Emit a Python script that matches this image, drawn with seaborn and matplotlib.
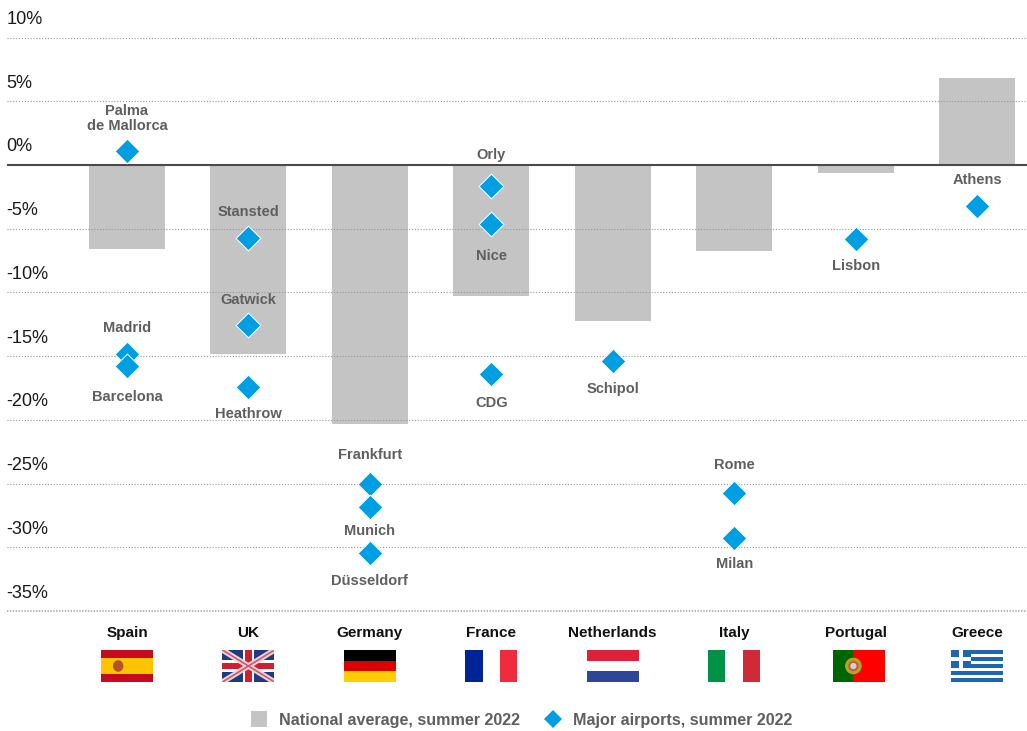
import numpy as np
import pandas as pd
import matplotlib
matplotlib.use("Agg")
import matplotlib.pyplot as plt
import matplotlib.transforms as mtrans
from matplotlib.lines import Line2D
from matplotlib.patches import Rectangle, Circle, Ellipse
import seaborn as sns

countries = ["Spain", "UK", "Germany", "France", "Netherlands", "Italy", "Portugal", "Greece"]
national_avg = [-6.6, -14.8, -20.3, -10.3, -12.25, -6.75, -0.63, 6.83]

airport_names = ["Palma\nde Mallorca", "Madrid", "Barcelona", "Stansted", "Gatwick", "Heathrow",
                 "Frankfurt", "Munich", "Düsseldorf", "Orly", "Nice", "CDG", "Schipol",
                 "Rome", "Milan", "Lisbon", "Athens"]
airport_country = ["Spain", "Spain", "Spain", "UK", "UK", "UK",
                   "Germany", "Germany", "Germany", "France", "France", "France", "Netherlands",
                   "Italy", "Italy", "Portugal", "Greece"]
airport_values = [1.1, -14.8, -15.8, -5.73, -12.57, -17.44,
                  -25.06, -26.87, -30.48, -1.65, -4.63, -16.42, -15.4,
                  -25.77, -29.3, -5.81, -3.22]
label_offset_px = [32, 26, -31, 26, 25, -27, 29, -24, -28, 31, -32, -29, -28, 28, -26, -27, 26]

y_ticks = [10, 5, 0, -5, -10, -15, -20, -25, -30, -35]

W, H = 1027, 731
sns.set_theme(style="white")
plt.rcParams["font.family"] = ["Liberation Sans", "DejaVu Sans"]

fig = plt.figure(figsize=(W / 100, H / 100), dpi=100)
ax = fig.add_axes([7 / W, 1 - 611 / H, 1 - 7 / W, (611 - 37.5) / H])

sns.barplot(x=countries, y=national_avg, order=countries, color="#c4c4c4", saturation=1,
            width=0.626, linewidth=0, ax=ax, zorder=1)
for t in y_ticks:
    if t == -35:
        ax.axhline(t, color="#b0b0b0", lw=1.3, ls=(0, (0.8, 0.8)), zorder=2, clip_on=False)
    elif t != 0:
        ax.axhline(t, color="#979797", lw=0.8, ls=(0, (1, 1.6)), zorder=2, clip_on=False)
ax.axhline(0, color="#4a4a4a", lw=1.5, zorder=3)
sns.stripplot(x=airport_country, y=airport_values, order=countries, jitter=False, marker="D",
              size=12.6, color="#009fe3", linewidth=0.7, edgecolor="white", ax=ax, zorder=4)

name_color = "#5f5f5f"
for name, c, v, off in zip(airport_names, airport_country, airport_values, label_offset_px):
    ax.annotate(name, (countries.index(c), v), xytext=(0, off * 0.72), textcoords="offset points",
                ha="center", va="center", fontsize=10.5, fontweight="bold", color=name_color,
                linespacing=1.1, zorder=5)

ax.set_xlim((7 - 127) / 121.43, (1027 - 127) / 121.43)
ax.set_ylim(-35, 10)
ax.set_xlabel("")
ax.set_ylabel("")
sns.despine(ax=ax, left=True, bottom=True)

ax.set_yticks(y_ticks)
ax.set_yticklabels([f"{t}%" for t in y_ticks])
ax.tick_params(axis="y", length=0, pad=0, labelsize=13.1, labelcolor="#1a1a1a")
shift = mtrans.ScaledTranslation(-0.5 / 100, 20 / 100, fig.dpi_scale_trans)
for lab in ax.get_yticklabels():
    lab.set_ha("left")
    lab.set_transform(lab.get_transform() + shift)

ax.set_xticks(range(len(countries)))
ax.set_xticklabels(countries, fontsize=11, fontweight="bold", color="#111111")
ax.tick_params(axis="x", length=0, pad=11)


def flag_axes(i, dx=0):
    cx = ax.transData.transform((i, 0))[0] + dx
    a = fig.add_axes([(cx - 26) / W, 1 - 682 / H, 52 / W, 32 / H])
    a.set_xlim(0, 1)
    a.set_ylim(0, 1)
    a.axis("off")
    return a


def stripes_h(a, colors, heights=None):
    heights = heights or [1 / len(colors)] * len(colors)
    top = 1
    for c, h in zip(colors, heights):
        a.add_patch(Rectangle((0, top - h), 1, h, color=c, lw=0))
        top -= h


def stripes_v(a, colors):
    for k, c in enumerate(colors):
        a.add_patch(Rectangle((k / len(colors), 0), 1 / len(colors), 1, color=c, lw=0))


# Spain
a = flag_axes(0)
stripes_h(a, ["#c60b1e", "#ffc400", "#c60b1e"], [0.25, 0.5, 0.25])
a.add_patch(Ellipse((0.33, 0.5), 0.2, 0.36, color="#b5502a", lw=0))
# UK
a = flag_axes(1)
a.add_patch(Rectangle((0, 0), 1, 1, color="#1f3a80", lw=0))
a.plot([0, 1], [0, 1], color="#e8d5d8", lw=4, solid_capstyle="butt")
a.plot([0, 1], [1, 0], color="#e8d5d8", lw=4, solid_capstyle="butt")
a.plot([0, 1], [0, 1], color="#d8566a", lw=1.2, solid_capstyle="butt")
a.plot([0, 1], [1, 0], color="#d8566a", lw=1.2, solid_capstyle="butt")
a.add_patch(Rectangle((0.39, 0), 0.22, 1, color="white", lw=0))
a.add_patch(Rectangle((0, 0.32), 1, 0.36, color="white", lw=0))
a.add_patch(Rectangle((0.44, 0), 0.12, 1, color="#cf2033", lw=0))
a.add_patch(Rectangle((0, 0.4), 1, 0.2, color="#cf2033", lw=0))
# Germany
stripes_h(flag_axes(2), ["#000000", "#dd0000", "#ffce00"])
# France
stripes_v(flag_axes(3), ["#002395", "#ffffff", "#ef2b3d"])
# Netherlands
stripes_h(flag_axes(4), ["#e0203a", "#ffffff", "#2f4598"])
# Italy
stripes_v(flag_axes(5), ["#009246", "#ffffff", "#ce2b37"])
# Portugal
a = flag_axes(6, dx=3)
a.add_patch(Rectangle((0, 0), 0.4, 1, color="#006600", lw=0))
a.add_patch(Rectangle((0.4, 0), 0.6, 1, color="#ff0000", lw=0))
a.add_patch(Ellipse((0.4, 0.5), 0.32, 0.52, color="#b3a52a", lw=0))
a.add_patch(Ellipse((0.4, 0.5), 0.2, 0.32, color="#c85a3a", lw=0))
a.add_patch(Ellipse((0.4, 0.5), 0.12, 0.2, color="#cfd0d8", lw=0))
# Greece
a = flag_axes(7)
stripes_h(a, ["#1f66b0" if k % 2 == 0 else "#ffffff" for k in range(9)])
a.add_patch(Rectangle((0, 4 / 9), 5 / 13, 5 / 9, color="#1f66b0", lw=0))
a.add_patch(Rectangle((2 / 13, 4 / 9), 1 / 13, 5 / 9, color="white", lw=0))
a.add_patch(Rectangle((0, 6 / 9), 5 / 13, 1 / 9, color="white", lw=0))

handles = [
    Line2D([], [], ls="", marker="s", ms=11, color="#c4c4c4", mew=0, label="National average, summer 2022"),
    Line2D([], [], ls="", marker="D", ms=9.4, color="#009fe3", mew=0, label="Major airports, summer 2022"),
]
leg = fig.legend(handles=handles, loc="center", bbox_to_anchor=(522 / W, 1 - 720.5 / H), ncol=2, frameon=False,
                 prop={"size": 11.6, "weight": "bold"}, labelcolor="#5f5f5f", handlelength=1, handletextpad=0.75,
                 columnspacing=1.55, borderpad=0, borderaxespad=0)

fig.savefig("out.png", dpi=100)
